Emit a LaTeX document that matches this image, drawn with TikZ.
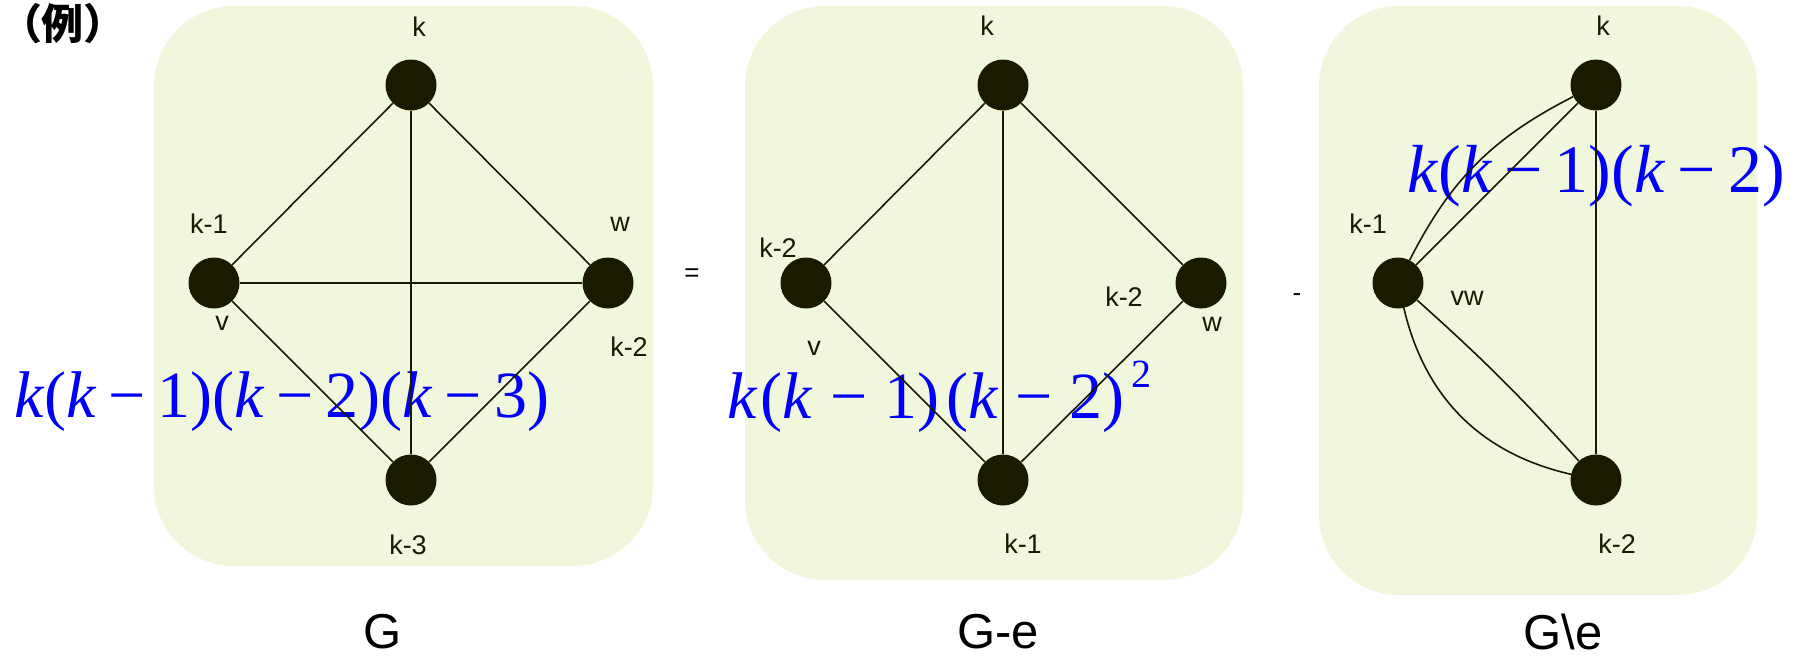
\documentclass[tikz,border=0pt]{standalone}
\usepackage{fontspec}
\setmainfont{Liberation Sans}
\newfontfamily\tms{Liberation Serif}
\newfontfamily\cjk{Noto Sans CJK JP}
\definecolor{boxfill}{RGB}{241,247,220}
\definecolor{dotc}{RGB}{26,26,0}
\definecolor{fblue}{RGB}{0,0,250}
\newcommand\kk{\textit{k}}
\newcommand\mns[1]{\hspace{#1}−\hspace{#1}}
\begin{document}
\begin{tikzpicture}[x=1pt,y=-1pt,
  panel/.style={fill=boxfill, draw=none, rounded corners=80pt},
  vert/.style={circle, fill=dotc, draw=none, minimum size=51pt, inner sep=0pt},
  edge/.style={draw=dotc, line width=1.6pt},
  lbl/.style={inner sep=0pt, font=\fontsize{27}{27}\selectfont, text=dotc},
  captxt/.style={inner sep=0pt, font=\fontsize{49}{49}\selectfont},
  optxt/.style={inner sep=0pt, font=\fontsize{26}{26}\selectfont},
  formula/.style={inner sep=0pt, anchor=base west, text=fblue}]
\useasboundingbox (0,0) rectangle (1805,657);
% panels
\path[panel] (154,6) rectangle (653,566);
\path[panel] (745,6) rectangle (1243,580);
\path[panel] (1319,6) rectangle (1757,595);
% title
\node[inner sep=0pt, font=\cjk\bfseries\fontsize{42}{42}\selectfont] (rei) at (63,24) {（例）};
% formulas
\node[formula, font=\tms\fontsize{66}{66}\selectfont] (f1) at (14,417)
  {\kk(\kk\mns{0.18em}1)(\kk\mns{0.18em}2)(\kk\mns{0.18em}3)};
\node[formula, font=\tms\fontsize{66}{66}\selectfont] (f2) at (727,418)
  {\kk\hspace{0.05em}(\kk\mns{0.26em}1)\hspace{0.1em}(\kk\mns{0.26em}2)\hspace{0.1em}\raisebox{31pt}{\fontsize{40}{40}\selectfont 2}};
\node[formula, font=\tms\fontsize{68}{68}\selectfont] (f3) at (1407,192)
  {\kk(\kk\mns{0.18em}1)(\kk\mns{0.18em}2)};
% panel 1: G
\node[vert] (ak) at (411,85) {};
\node[vert] (av) at (214,283) {};
\node[vert] (aw) at (608,283) {};
\node[vert] (ab) at (411,480) {};
\draw[edge] (ak) -- (av);
\draw[edge] (ak) -- (aw);
\draw[edge] (ak) -- (ab);
\draw[edge] (av) -- (aw);
\draw[edge] (av) -- (ab);
\draw[edge] (aw) -- (ab);
\node[lbl] (akl) at (419,27) {k};
\node[lbl] (avl1) at (209,224) {k-1};
\node[lbl] (awl1) at (620,224) {w};
\node[lbl] (avl2) at (222,323) {v};
\node[lbl] (awl2) at (629,347) {k-2};
\node[lbl] (abl) at (408,545) {k-3};
\node[captxt] (capG) at (383,632) {G};
% operator
\node[optxt] (eq) at (692,275) {=};
% panel 2: G-e
\node[vert] (bk) at (1003,85) {};
\node[vert] (bv) at (806,283) {};
\node[vert] (bw) at (1201,283) {};
\node[vert] (bb) at (1003,480) {};
\draw[edge] (bk) -- (bv);
\draw[edge] (bk) -- (bw);
\draw[edge] (bk) -- (bb);
\draw[edge] (bv) -- (bb);
\draw[edge] (bw) -- (bb);
\node[lbl] (bkl) at (987,26) {k};
\node[lbl] (bvl1) at (778,248) {k-2};
\node[lbl] (bvl2) at (814,348) {v};
\node[lbl] (bwl1) at (1124,297) {k-2};
\node[lbl] (bwl2) at (1212,324) {w};
\node[lbl] (bbl) at (1023,544) {k-1};
\node[captxt] (capGe) at (998,632) {G-e};
% operator
\node[optxt] (mi) at (1297,298) {-};
% panel 3: G\e
\node[vert] (ck) at (1596,85) {};
\node[vert] (cv) at (1398,283) {};
\node[vert] (cb) at (1596,480) {};
\draw[edge] (cv) to[bend left=18] (ck);
\draw[edge] (cv) -- (ck);
\draw[edge] (cv) to[bend left=3] (cb);
\draw[edge] (cv) to[bend right=32] (cb);
\draw[edge] (ck) -- (cb);
\node[lbl] (ckl) at (1603,26) {k};
\node[lbl] (cvl1) at (1368,224) {k-1};
\node[lbl] (cvl2) at (1467,298) {vw};
\node[lbl] (cbl) at (1617,544) {k-2};
\node[captxt] (capGc) at (1563,632) {G\textbackslash e};
\end{tikzpicture}
\end{document}
